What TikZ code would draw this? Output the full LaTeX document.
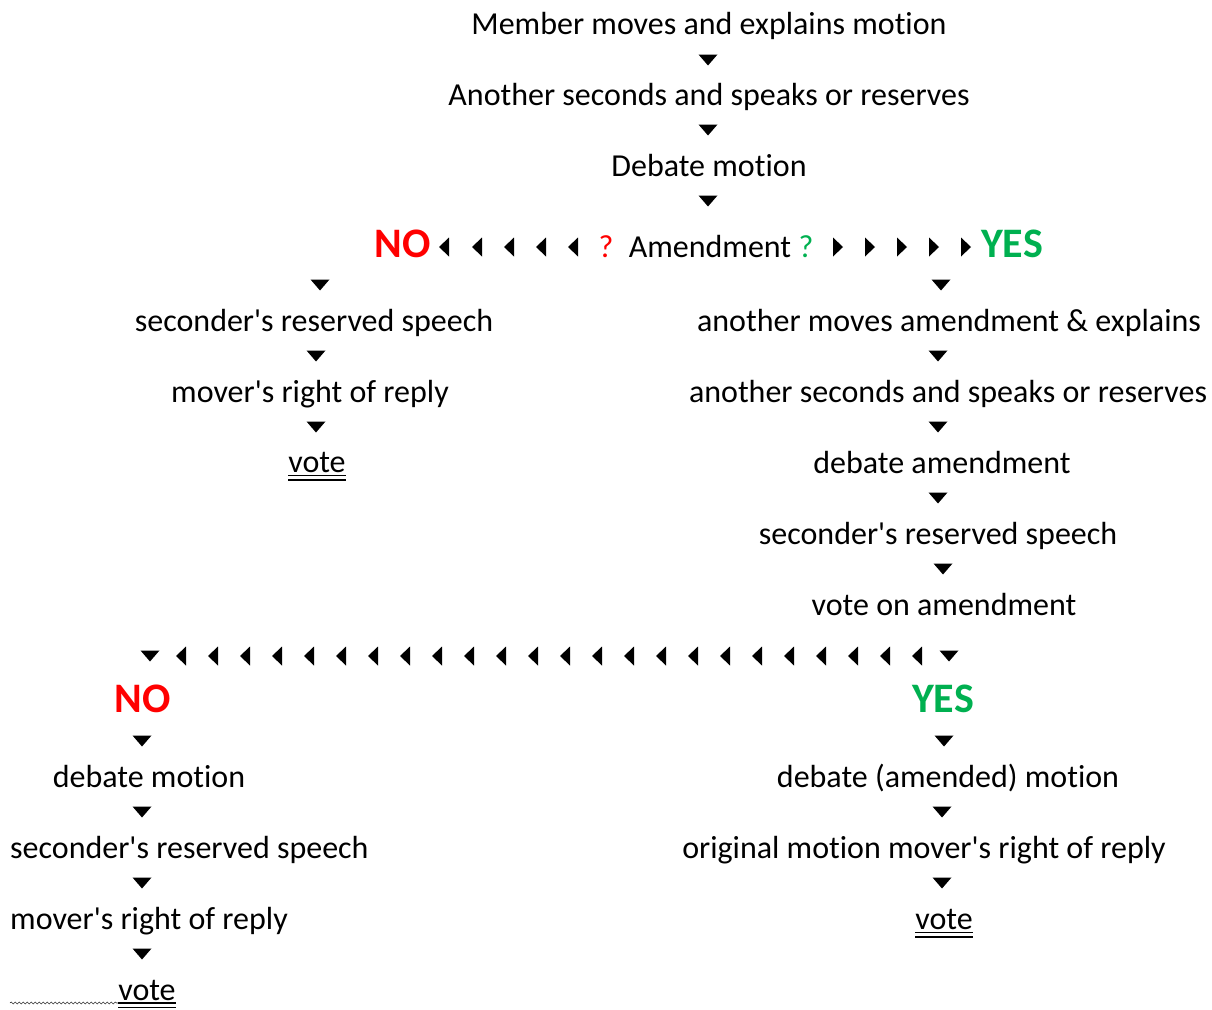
\documentclass[tikz,border=0pt]{standalone}
\usepackage{fontspec}
\setmainfont{Carlito}[Ligatures=NoCommon]
\usetikzlibrary{positioning,calc,decorations.pathmorphing}
\definecolor{nored}{HTML}{FF0000}
\definecolor{yesgreen}{HTML}{00B050}

\begin{document}
\begin{tikzpicture}[x=1pt,y=-1pt,
      txt/.style={font=\fontsize{32}{38}\selectfont,inner sep=0pt,anchor=base},
      ans/.style={font=\fontsize{42}{48}\selectfont\bfseries,inner sep=0pt,anchor=base},
      dn/.pic={\fill (-9.5,-5.5) -- (9.5,-5.5) -- (0,5.5) -- cycle;},
      lt/.pic={\fill (5,-9.5) -- (5,9.5) -- (-5,0) -- cycle;},
      rt/.pic={\fill (-5,-9.5) -- (-5,9.5) -- (5,0) -- cycle;},
      uline/.style={line width=1.4pt}]
    \useasboundingbox (0,0) rectangle (1212,1009);
    % main motion
    \node[txt] (m1) at (709,34.5) {Member moves and explains motion};
    \node[txt] (m2) at (709,105.5) {Another seconds and speaks or reserves};
    \node[txt] (m3) at (709,176.5) {Debate motion};
    \node[txt] (am) at (710,257) {Amendment};
    \node[txt,text=nored] (qno) at (606,257) {?};
    \node[txt,text=yesgreen] (qyes) at (806,257) {?};
    \node[ans,text=nored] (no1) at (403,257.5) {NO};
    \node[ans,text=yesgreen] (yes1) at (1012,257.5) {YES};
    \foreach \y in {60,130,201} \pic at (708,\y) {dn};
    \foreach \x in {444,477,509,541,573} \pic at (\x,247) {lt};
    \foreach \x in {838,870,902,934,966} \pic at (\x,247) {rt};
    % no amendment
    \node[txt] (l1) at (314,331.5) {seconder\textquotesingle s reserved speech};
    \node[txt] (l2) at (310,402.5) {mover\textquotesingle s right of reply};
    \node[txt] (l3) at (317,472.5) {vote};
    \pic at (320,285) {dn};
    \pic at (316,356) {dn};
    \pic at (316,427) {dn};
    % amendment
    \node[txt] (r1) at (949,331.5) {another moves amendment \& explains};
    \node[txt] (r2) at (948,402.5) {another seconds and speaks or reserves};
    \node[txt] (r3) at (942,473.5) {debate amendment};
    \node[txt] (r4) at (938,544.5) {seconder\textquotesingle s reserved speech};
    \node[txt] (r5) at (944,615.5) {vote on amendment};
    \pic at (941,285) {dn};
    \foreach \y in {356,427,498} \pic at (938,\y) {dn};
    \pic at (943,569) {dn};
    % result of the amendment vote
    \pic at (150,656) {dn};
    \pic at (949,656) {dn};
    \foreach \i in {0,...,23} \pic at (181+32*\i,656) {lt};
    \node[ans,text=nored] (no2) at (143,712) {NO};
    \node[ans,text=yesgreen] (yes2) at (943,712) {YES};
    % lost
    \node[txt] (bl1) at (149,787.5) {debate motion};
    \node[txt,anchor=base west] (bl2) at (10,858.5) {seconder\textquotesingle s reserved speech};
    \node[txt,anchor=base west] (bl3) at (10,929.5) {mover\textquotesingle s right of reply};
    \node[txt] (bl4) at (147,1000) {vote};
    \foreach \y in {741,812,883,954} \pic at (142,\y) {dn};
    % carried
    \node[txt] (br1) at (948,787.5) {debate (amended) motion};
    \node[txt] (br2) at (924,858.5) {original motion mover\textquotesingle s right of reply};
    \node[txt] (br3) at (944,929.5) {vote};
    \pic at (944,741) {dn};
    \pic at (942,812) {dn};
    \pic at (942,883) {dn};
    % double underlines
    \foreach \v in {l3,bl4,br3} {
      \draw[uline] ($(\v.base west)+(0,3)$) -- ($(\v.base east)+(0,3)$);
      \draw[uline] ($(\v.base west)+(0,7.5)$) -- ($(\v.base east)+(0,7.5)$);
    }
    \coordinate (sq) at (10,1003);
    \draw[decorate,decoration={snake,amplitude=1pt,segment length=4pt},
          black!80,line width=0.6pt] (sq) -- ($(bl4.base west)+(0,3)$);
  \end{tikzpicture}
\end{document}
